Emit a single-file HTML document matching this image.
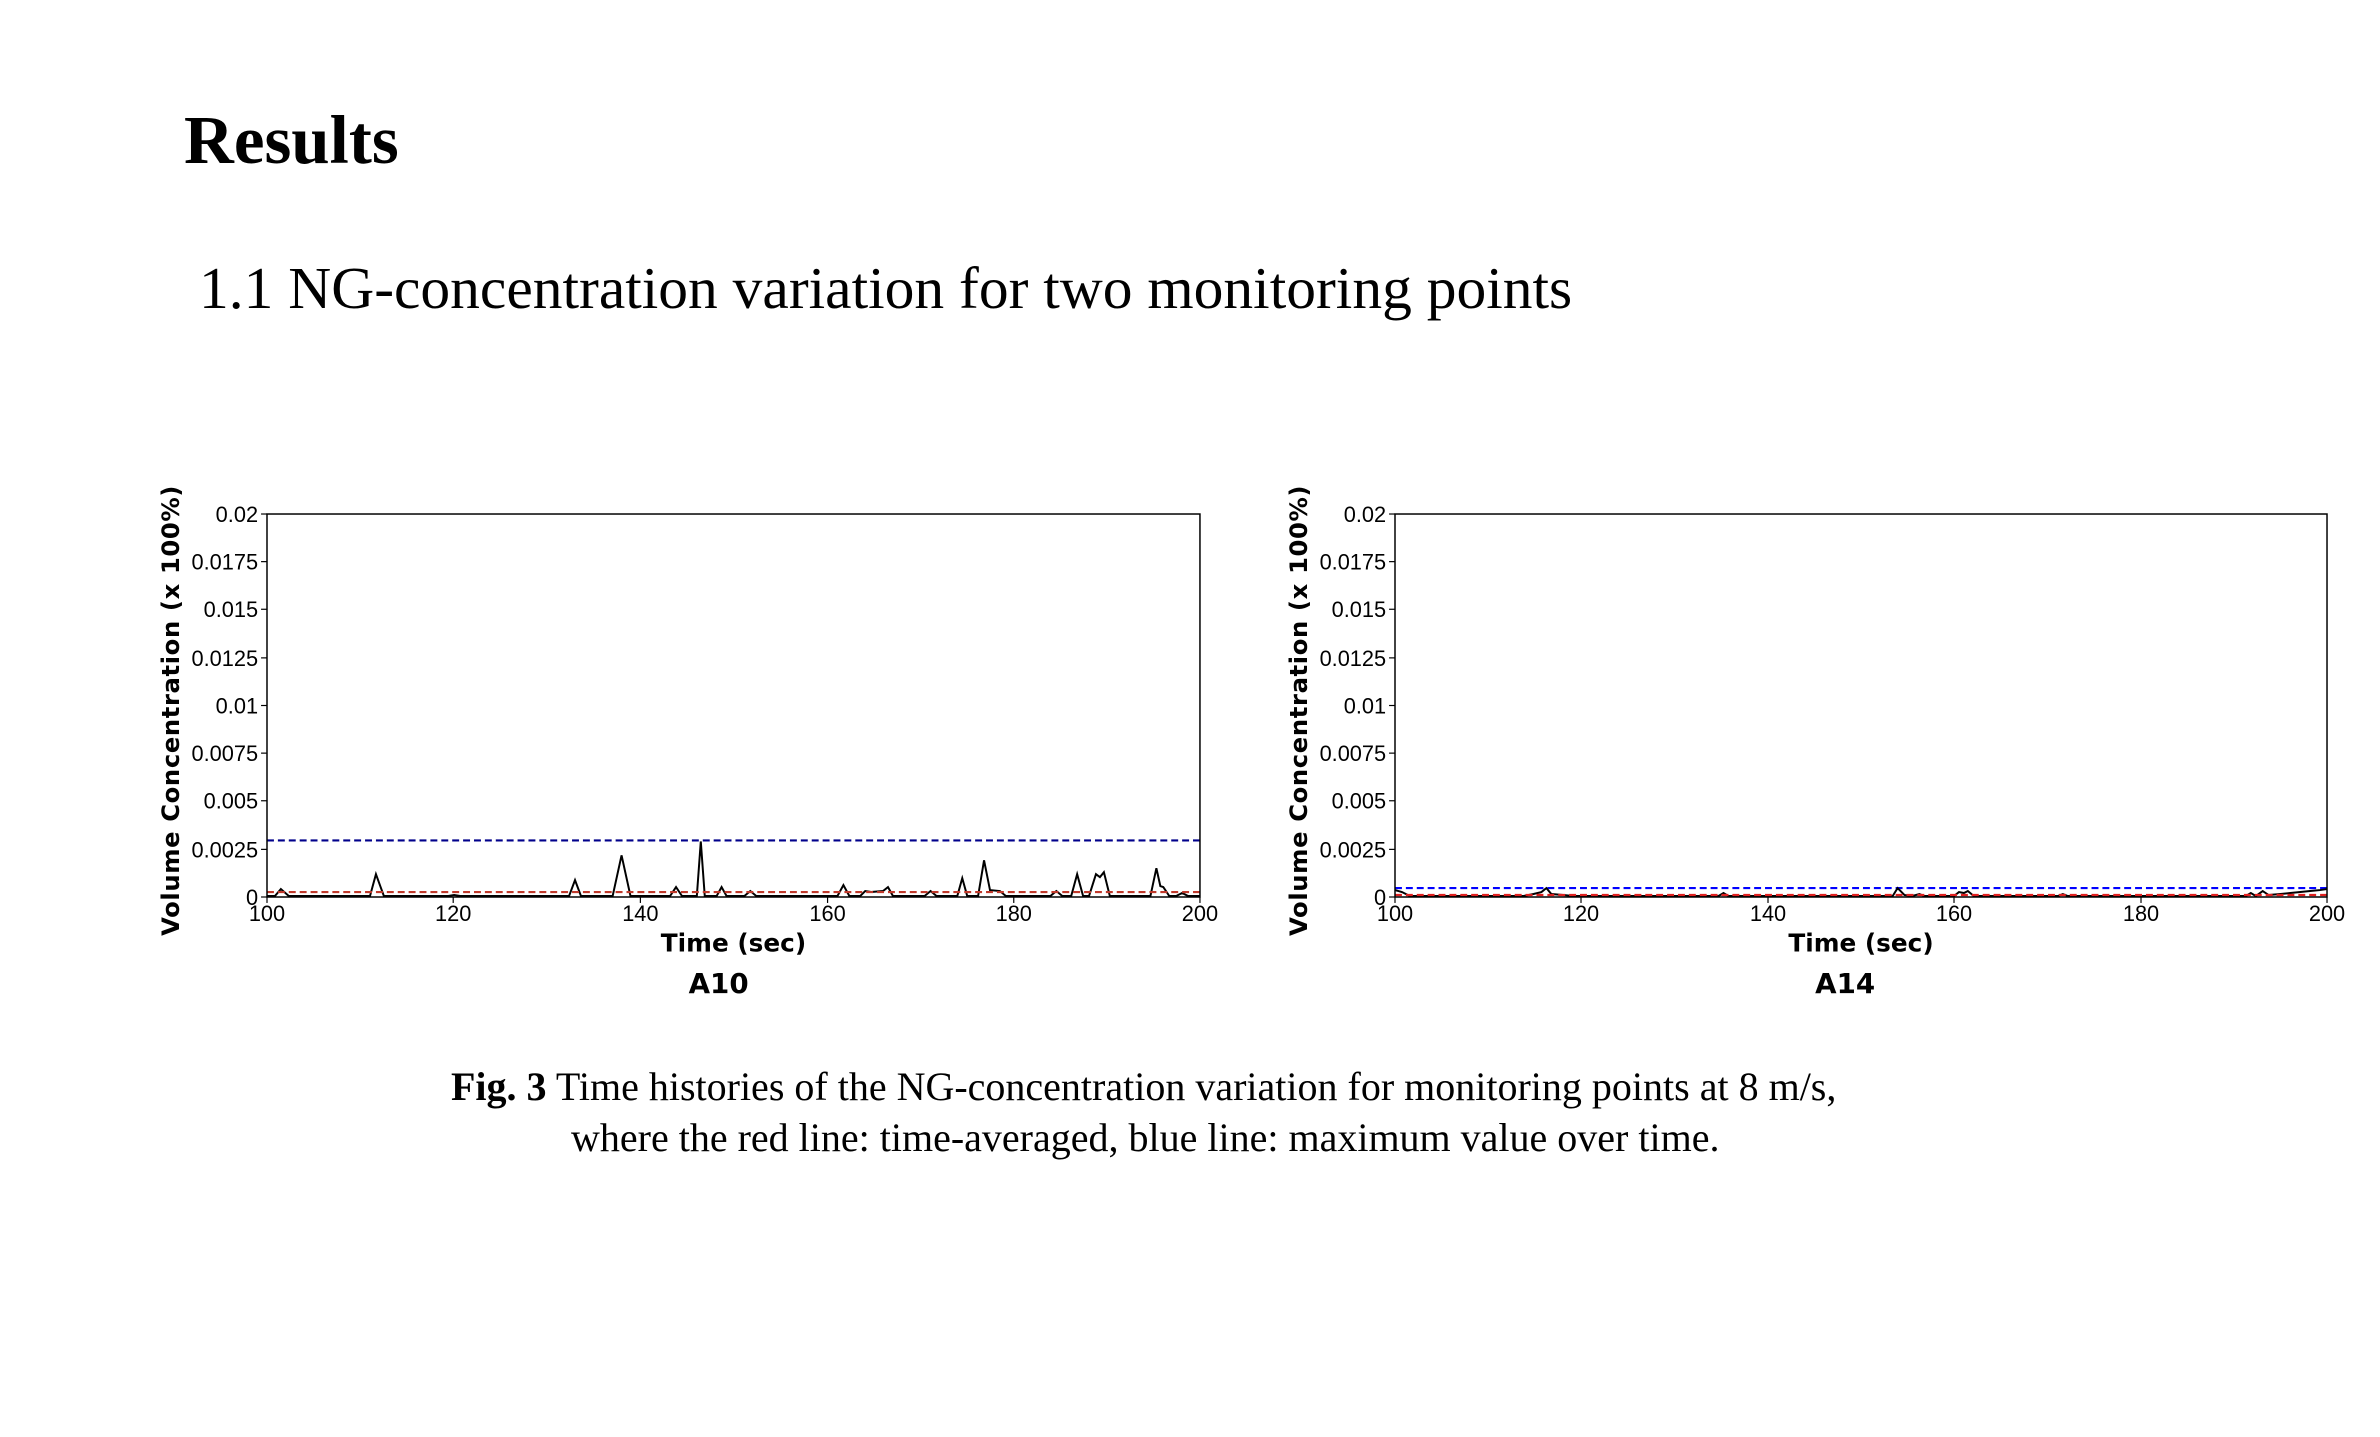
<!DOCTYPE html>
<html><head><meta charset="utf-8"><style>
html,body{margin:0;padding:0;background:#fff;}
svg{display:block;}
.tk{font-family:"Liberation Sans Narrow","Liberation Sans",sans-serif;font-size:22px;}
.lb{font-family:"DejaVu Sans",sans-serif;font-weight:bold;}
</style></head><body>
<svg width="2380" height="1437" viewBox="0 0 2380 1437" xmlns="http://www.w3.org/2000/svg" font-family="Liberation Sans, sans-serif">
<rect width="2380" height="1437" fill="#fff"/>
<text x="184" y="163" font-family="Liberation Serif, serif" font-weight="bold" font-size="69">Results</text>
<text x="199" y="308" font-family="Liberation Serif, serif" font-size="59.5">1.1 NG-concentration variation for two monitoring points</text>

<!-- Left plot -->
<g transform="translate(267,897) scale(0.9904,0.9922) translate(-270,-901)">
<line x1="270" y1="844" x2="1212" y2="844" stroke="#00008b" stroke-width="2.2" stroke-dasharray="7,4"/>
<polyline fill="none" stroke="#000" stroke-width="2" points="270,900 278,900 284,893 292,900 374,900 380,878 388,900 453,900 459,899 465,900 575,900 581,884 587,900 619,900 628,859 637,900 677,900 683,891 689,900 704,900 708,845 712,900 724,900 729,891 734,900 752,900 758,895 764,900 846,900 852,889 858,900 869,900 874,895 880,896 892,895 897,891 902,900 934,900 940,895 946,900 967,900 972,882 977,900 988,900 994,864 1000,894 1010,895 1016,900 1061,900 1067,895 1073,900 1082,900 1088,878 1094,900 1100,900 1107,878 1111,881 1115,876 1121,900 1162,900 1168,872 1172,890 1175,891 1181,900 1188,900 1194,897 1200,900 1212,900"/>
<line x1="270" y1="896" x2="1212" y2="896" stroke="#c0392b" stroke-width="2.2" stroke-dasharray="7,4"/>
<rect x="270" y="515" width="942" height="386" fill="none" stroke="#000" stroke-width="1.5"/>
<g class="tk" text-anchor="end" fill="#000">
<text x="261" y="909">0</text><text x="261" y="861">0.0025</text><text x="261" y="812">0.005</text><text x="261" y="764">0.0075</text><text x="261" y="716">0.01</text><text x="261" y="668">0.0125</text><text x="261" y="619">0.015</text><text x="261" y="571">0.0175</text><text x="261" y="523">0.02</text>
</g>
<g stroke="#000" stroke-width="1.2"><line x1="264" y1="901" x2="270" y2="901"/><line x1="264" y1="853" x2="270" y2="853"/><line x1="264" y1="804" x2="270" y2="804"/><line x1="264" y1="756" x2="270" y2="756"/><line x1="264" y1="708" x2="270" y2="708"/><line x1="264" y1="660" x2="270" y2="660"/><line x1="264" y1="611" x2="270" y2="611"/><line x1="264" y1="563" x2="270" y2="563"/><line x1="264" y1="515" x2="270" y2="515"/>
<line x1="270" y1="901" x2="270" y2="907"/><line x1="458" y1="901" x2="458" y2="907"/><line x1="647" y1="901" x2="647" y2="907"/><line x1="836" y1="901" x2="836" y2="907"/><line x1="1024" y1="901" x2="1024" y2="907"/><line x1="1212" y1="901" x2="1212" y2="907"/></g>
<g class="tk" text-anchor="middle"><text x="270" y="925">100</text><text x="458" y="925">120</text><text x="647" y="925">140</text><text x="836" y="925">160</text><text x="1024" y="925">180</text><text x="1212" y="925">200</text></g>
<text class="lb" x="741" y="956" font-size="25" text-anchor="middle">Time (sec)</text>
<text class="lb" x="726" y="998" font-size="28" text-anchor="middle">A10</text>
<text class="lb" transform="translate(181,713) rotate(-90)" font-size="24.5" text-anchor="middle" letter-spacing="0.6">Volume Concentration (x 100%)</text>
</g>

<!-- Right plot -->
<g transform="translate(1395,897) scale(0.9894,0.9922) translate(-1395,-901)">
<line x1="1395" y1="892" x2="2337" y2="892" stroke="#0000ff" stroke-width="2.2" stroke-dasharray="7,4"/>
<polyline fill="none" stroke="#000" stroke-width="2" points="1395,894 1402,896 1410,900 1525,900 1535,898 1543,896 1548,892 1553,898 1565,899 1575,900 1722,900 1727,897 1732,900 1898,900 1903,892 1910,899 1918,900 1925,898 1930,900 1960,900 1965,896 1970,897 1974,895 1980,900 2065,900 2070,898 2075,900 2255,900 2260,897 2265,900 2272,895 2278,899 2290,898 2300,897 2310,896 2320,895 2330,894 2337,893"/>
<line x1="1395" y1="899" x2="2337" y2="899" stroke="#e02020" stroke-width="2.2" stroke-dasharray="7,4"/>
<rect x="1395" y="515" width="942" height="386" fill="none" stroke="#000" stroke-width="1.5"/>
<g class="tk" text-anchor="end" fill="#000">
<text x="1386" y="909">0</text><text x="1386" y="861">0.0025</text><text x="1386" y="812">0.005</text><text x="1386" y="764">0.0075</text><text x="1386" y="716">0.01</text><text x="1386" y="668">0.0125</text><text x="1386" y="619">0.015</text><text x="1386" y="571">0.0175</text><text x="1386" y="523">0.02</text>
</g>
<g stroke="#000" stroke-width="1.2"><line x1="1389" y1="901" x2="1395" y2="901"/><line x1="1389" y1="853" x2="1395" y2="853"/><line x1="1389" y1="804" x2="1395" y2="804"/><line x1="1389" y1="756" x2="1395" y2="756"/><line x1="1389" y1="708" x2="1395" y2="708"/><line x1="1389" y1="660" x2="1395" y2="660"/><line x1="1389" y1="611" x2="1395" y2="611"/><line x1="1389" y1="563" x2="1395" y2="563"/><line x1="1389" y1="515" x2="1395" y2="515"/>
<line x1="1395" y1="901" x2="1395" y2="907"/><line x1="1583" y1="901" x2="1583" y2="907"/><line x1="1772" y1="901" x2="1772" y2="907"/><line x1="1960" y1="901" x2="1960" y2="907"/><line x1="2149" y1="901" x2="2149" y2="907"/><line x1="2337" y1="901" x2="2337" y2="907"/></g>
<g class="tk" text-anchor="middle"><text x="1395" y="925">100</text><text x="1583" y="925">120</text><text x="1772" y="925">140</text><text x="1960" y="925">160</text><text x="2149" y="925">180</text><text x="2337" y="925">200</text></g>
<text class="lb" x="1866" y="956" font-size="25" text-anchor="middle">Time (sec)</text>
<text class="lb" x="1850" y="998" font-size="28" text-anchor="middle">A14</text>
<text class="lb" transform="translate(1306,713) rotate(-90)" font-size="24.5" text-anchor="middle" letter-spacing="0.6">Volume Concentration (x 100%)</text>
</g>

<text x="451" y="1100" font-family="Liberation Serif, serif" font-size="40"><tspan font-weight="bold">Fig. 3</tspan> Time histories of the NG-concentration variation for monitoring points  at 8 m/s,</text>
<text x="571" y="1151" font-family="Liberation Serif, serif" font-size="40">where the red line: time-averaged, blue line: maximum value over time.</text>
</svg>
</body></html>
